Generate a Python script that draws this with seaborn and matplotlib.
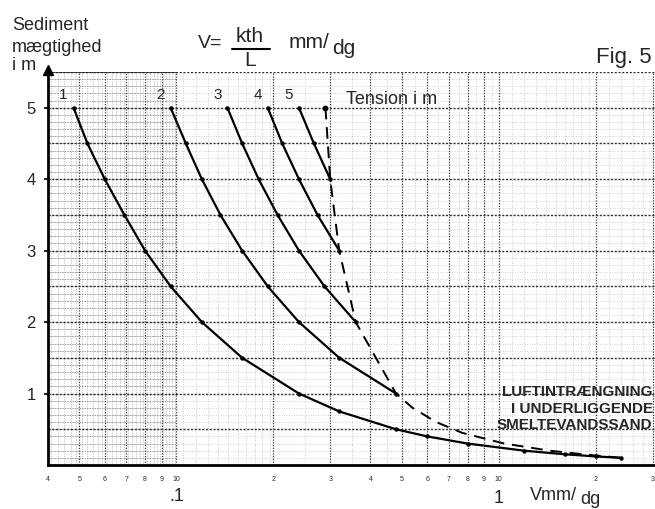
import numpy as np
import pandas as pd
import matplotlib
matplotlib.use("Agg")
import matplotlib.pyplot as plt
import seaborn as sns

# Sediment thickness L (m) and velocity V (mm/dg)
L_1 = [5, 4.5, 4, 3.5, 3, 2.5, 2, 1.5, 1, 0.75, 0.5, 0.4, 0.3, 0.2, 0.15, 0.12, 0.1]
V_1 = [0.048, 0.053, 0.06, 0.069, 0.08, 0.096, 0.12, 0.16, 0.24, 0.32, 0.48, 0.6, 0.8, 1.2, 1.6, 2.0, 2.4]
L_2 = [5, 4.5, 4, 3.5, 3, 2.5, 2, 1.5, 1]
V_2 = [0.096, 0.107, 0.12, 0.137, 0.16, 0.192, 0.24, 0.32, 0.48]
L_3 = [5, 4.5, 4, 3.5, 3, 2.5, 2]
V_3 = [0.144, 0.16, 0.18, 0.206, 0.24, 0.288, 0.36]
L_4 = [5, 4.5, 4, 3.5, 3]
V_4 = [0.192, 0.213, 0.24, 0.274, 0.32]
L_5 = [5, 4.5, 4]
V_5 = [0.24, 0.267, 0.30]
TENSIONS = ["1", "2", "3", "4", "5"]

# dashed limit curve (air intrusion)
L_LIMIT = [5, 4, 3, 2, 1, 0.8, 0.6, 0.45, 0.3, 0.2, 0.14, 0.1]
V_LIMIT = [0.29, 0.30, 0.32, 0.36, 0.48, 0.54, 0.64, 0.77, 1.04, 1.44, 1.92, 2.4]

Y_TICKS = [1, 2, 3, 4, 5]
X_TICKS = [0.04, 0.05, 0.06, 0.07, 0.08, 0.09, 0.1, 0.2, 0.3, 0.4, 0.5, 0.6, 0.7, 0.8, 0.9, 1.0, 2.0, 3.0]
X_TICK_LABELS = ["4", "5", "6", "7", "8", "9", "10", "2", "3", "4", "5", "6", "7", "8", "9", "10", "2", "3"]

sns.set_style("white")
plt.rcParams["font.family"] = ["Liberation Sans", "DejaVu Sans"]

W, H = 655, 509
fig = plt.figure(figsize=(W / 100, H / 100), dpi=100)
ax = fig.add_axes([48 / W, 44 / H, 607 / W, 393 / H])
ax.set_xscale("log")
ax.set_xlim(0.04, 3.05)
ax.set_ylim(0, 5.5)

# --- graph-paper grid ---
dense_x = np.arange(0.041, 0.1, 0.002)
for x in dense_x:
    ax.axvline(x, color="#9a9a9a", lw=0.5, ls=(0, (1, 1.5)), zorder=0)
for y in np.arange(0.1, 5.5, 0.1):
    ax.axhline(y, color="#aaaaaa", lw=0.5, ls=(0, (1, 2.5)), zorder=0)
    ax.plot([0.04, 0.1], [y, y], color="#888888", lw=0.6, ls=(0, (1, 1)), zorder=0)
minor_x = np.concatenate([np.arange(0.105, 0.2, 0.01), np.arange(0.2, 1.0, 0.05),
                          np.arange(1.1, 2.0, 0.1), np.arange(2.2, 3.05, 0.2)])
for x in minor_x:
    ax.axvline(x, color="#a0a0a0", lw=0.5, ls=(0, (1, 2.5)), zorder=0)
for x in X_TICKS:
    ax.axvline(x, color="#404040", lw=0.9, ls=(0, (1, 1.2)), zorder=0.5)
for y in np.arange(0.5, 5.6, 0.5):
    ax.axhline(y, color="#303030", lw=1.0, ls=(0, (1.5, 1.2)), zorder=0.5)
ax.plot([0.04, 0.1], [5.5, 5.5], color="#222222", lw=1.2, zorder=1)

# --- tension curves ---
curves = [(L_1, V_1), (L_2, V_2), (L_3, V_3), (L_4, V_4), (L_5, V_5)]
for name, (ls_, vs_) in zip(TENSIONS, curves):
    df = pd.DataFrame({"V": vs_, "L": ls_})
    sns.lineplot(data=df, x="V", y="L", ax=ax, color="black", lw=1.6,
                 marker="o", markersize=3.2, markeredgewidth=0, sort=False,
                 estimator=None, zorder=3)
    ax.text(vs_[0] * 0.93, 5.08, name, fontsize=11, ha="center", va="bottom")

lim = pd.DataFrame({"V": V_LIMIT, "L": L_LIMIT})
sns.lineplot(data=lim, x="V", y="L", ax=ax, color="black", lw=1.4,
             sort=False, estimator=None, zorder=3)
ax.lines[-1].set_linestyle((0, (6, 4)))
ax.plot([V_LIMIT[0]], [L_LIMIT[0]], "o", color="black", ms=3.2, zorder=4)

ax.text(0.335, 5.0, "Tension i m", fontsize=13, ha="left", va="bottom")
ax.text(3.0, 1.12, "LUFTINTRÆNGNING\nI UNDERLIGGENDE\nSMELTEVANDSSAND",
        fontsize=11, fontweight="bold", ha="right", va="top",
        linespacing=1.25, family=["Liberation Sans Narrow", "Liberation Sans"],
        fontstretch="condensed", zorder=5)

# --- axes styling ---
for s in ["top", "right"]:
    ax.spines[s].set_visible(False)
for s in ["left", "bottom"]:
    ax.spines[s].set_linewidth(2)
    ax.spines[s].set_color("black")
ax.set_yticks(Y_TICKS)
ax.set_yticklabels([str(v) for v in Y_TICKS], fontsize=12)
ax.tick_params(axis="y", length=3, width=1.5, pad=6, left=True)
ax.set_xticks(X_TICKS)
ax.set_xticklabels(X_TICK_LABELS, fontsize=5)
ax.xaxis.set_minor_locator(matplotlib.ticker.NullLocator())
ax.tick_params(axis="x", length=0, pad=8)
ax.set_xlabel("")
ax.set_ylabel("")
ax.plot([0], [1.005], marker="^", color="black", ms=7, transform=ax.transAxes,
        clip_on=False)

tr = ax.get_xaxis_transform()
ax.text(0.1, -0.08, ".1", fontsize=13, ha="center", va="center", transform=tr)
ax.text(1.0, -0.085, "1", fontsize=13, ha="center", va="center", transform=tr)

def ftext(px, py, s, **kw):
    fig.text(px / W, 1 - py / H, s, **kw)

ftext(530, 496, "Vmm/", fontsize=13, ha="left", va="center")
ftext(580, 499, "dg", fontsize=13, ha="left", va="center")

ftext(12, 25, "Sediment", fontsize=13, ha="left", va="center")
ftext(12, 47, "mægtighed", fontsize=13, ha="left", va="center")
ftext(12, 66, "i m", fontsize=13, ha="left", va="center")

ftext(198, 43, "V=", fontsize=14, ha="left", va="center")
ftext(250, 37, "kth", fontsize=15, ha="center", va="center")
ftext(250, 61, "L", fontsize=15, ha="center", va="center")
fig.add_artist(plt.Line2D([232 / W, 270 / W], [1 - 49 / H, 1 - 49 / H],
                          color="black", lw=1.5))
ftext(289, 42, "mm/", fontsize=15, ha="left", va="center")
ftext(332, 48, "dg", fontsize=15, ha="left", va="center")
ftext(652, 57, "Fig. 5", fontsize=16, ha="right", va="center")

fig.savefig("out.png", dpi=100)
